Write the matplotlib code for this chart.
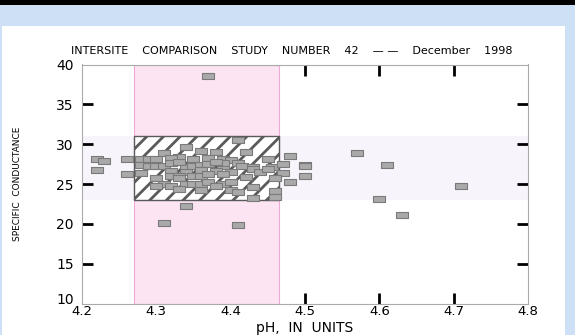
import numpy as np
import matplotlib
matplotlib.use("Agg")
import matplotlib.pyplot as plt
from matplotlib.patches import Rectangle
from matplotlib.path import Path
from matplotlib.transforms import ScaledTranslation

plt.rcParams['font.family'] = ['DejaVu Sans']

# data
ph = [4.22, 4.23, 4.22, 4.26, 4.26,
	4.41, 4.34, 4.31, 4.36, 4.38, 4.42,
	4.33, 4.28, 4.29, 4.30, 4.32, 4.39, 4.40, 4.45, 4.35, 4.37,
	4.28, 4.29, 4.30, 4.31, 4.32, 4.34, 4.35, 4.36, 4.37, 4.39, 4.39, 4.41, 4.415, 4.43, 4.455, 4.47, 4.33, 4.38,
	4.43, 4.44, 4.45, 4.47, 4.28, 4.32, 4.34, 4.36, 4.38, 4.40,
	4.30, 4.32, 4.33, 4.35, 4.36, 4.37, 4.39, 4.33, 4.46, 4.42,
	4.31, 4.32, 4.34, 4.35, 4.36, 4.37, 4.39, 4.40, 4.38, 4.30,
	4.40, 4.43, 4.46, 4.46, 4.43, 4.41, 4.33, 4.36,
	4.48, 4.50, 4.50, 4.50, 4.48,
	4.57, 4.61, 4.60, 4.63, 4.71,
	4.37, 4.34, 4.31, 4.41]
cond = [28.1, 27.9, 26.8, 28.2, 26.3,
	30.5, 29.7, 28.9, 29.1, 29.0, 29.0,
	28.4, 28.1, 28.2, 28.1, 28.3, 28.1, 28.0, 28.1, 28.2, 28.3,
	27.4, 27.2, 27.3, 27.3, 27.6, 27.1, 27.3, 27.4, 27.5, 27.3, 27.6, 27.6, 27.3, 27.1, 27.1, 27.5, 27.8, 27.8,
	26.9, 26.5, 26.9, 26.4, 26.4, 26.6, 26.5, 26.7, 26.6, 26.5,
	25.8, 26.0, 26.0, 26.0, 26.0, 26.2, 26.2, 25.7, 25.8, 25.9,
	25.0, 24.7, 25.0, 25.0, 25.0, 25.2, 25.0, 25.2, 24.7, 24.8,
	24.3, 24.6, 24.1, 23.4, 23.3, 24.0, 24.4, 24.3,
	28.5, 27.4, 27.2, 26.0, 25.2,
	28.9, 27.4, 23.1, 21.1, 24.8,
	38.5, 22.3, 20.1, 19.9]

ph_range = (4.27, 4.465)
cond_range = (23.0, 31.0)
xticks = [4.2, 4.3, 4.4, 4.5, 4.6, 4.7, 4.8]
yticks = [10, 15, 20, 25, 30, 35, 40]

W, H = 575, 335
fig = plt.figure(figsize=(W / 100, H / 100), dpi=100)
fig.patch.set_facecolor('#cde0f5')
# white panel and black bar at the top
fig.add_artist(Rectangle((2 / W, 0), 563 / W, 309 / H, transform=fig.transFigure,
	facecolor='white', edgecolor='none', zorder=-2))
fig.add_artist(Rectangle((0, 1 - 5 / H), 1, 5 / H, transform=fig.transFigure,
	facecolor='black', edgecolor='none', zorder=-1))

ax = fig.add_axes([82 / W, (H - 303.5) / H, 446 / W, 239 / H])
ax.set_facecolor('none')
ax.set_xlim(4.2, 4.8)
ax.set_ylim(10, 40)

# acceptable ranges
ax.axhspan(cond_range[0], cond_range[1], facecolor='#f7f4fb', edgecolor='none', zorder=1)
ax.axvspan(ph_range[0], ph_range[1], facecolor='#fce4f2', edgecolor='#f0a8d8', lw=0.8, zorder=2)
plt.rcParams['hatch.linewidth'] = 2.0
ax.add_patch(Rectangle((ph_range[0], cond_range[0]), ph_range[1] - ph_range[0],
	cond_range[1] - cond_range[0], facecolor='white', edgecolor='#5a5a5a',
	hatch='//', lw=1.0, zorder=3))

box = Path([(-1, -0.58), (1, -0.58), (1, 0.58), (-1, 0.58), (-1, -0.58)],
	[Path.MOVETO, Path.LINETO, Path.LINETO, Path.LINETO, Path.CLOSEPOLY])
ax.scatter(ph, cond, marker=box, s=75, facecolor='#a9a9a9', edgecolor='#7a7a7a',
	linewidths=0.8, zorder=4)

ax.set_xticks(xticks)
ax.set_xticklabels(['%.1f' % v for v in xticks])
ax.set_yticks(yticks)
ax.tick_params(direction='in', length=8, width=2, top=True, right=True,
	labelsize=10, color='black')
ax.tick_params(axis='x', pad=1, labelsize=9.5)
ax.tick_params(axis='y', pad=6)
for t in [ax.xaxis.get_major_ticks()[0], ax.xaxis.get_major_ticks()[-1],
		ax.yaxis.get_major_ticks()[0], ax.yaxis.get_major_ticks()[-1]]:
	t.tick1line.set_visible(False)
	t.tick2line.set_visible(False)
# the "10" sits a little above the 4.2 label
lab10 = ax.yaxis.get_major_ticks()[0].label1
lab10.set_transform(lab10.get_transform() + ScaledTranslation(0, 5 / 100, fig.dpi_scale_trans))
for s in ax.spines.values():
	s.set_color('#aaaaaa')
	s.set_linewidth(0.8)
	s.set_zorder(5)

ax.set_xlabel('pH,  IN  UNITS', fontsize=10)
ax.xaxis.set_label_coords(0.5, -0.075)
ax.set_ylabel('SPECIFIC  CONDUCTANCE', fontsize=6.5)
ax.yaxis.set_label_coords(-0.135, 0.5)

fig.text(292 / W, 1 - 51 / H,
	'INTERSITE    COMPARISON    STUDY    NUMBER    42    \u2014 \u2014    December    1998',
	fontsize=8, ha='center', va='center')

fig.savefig('out.png', dpi=100)
